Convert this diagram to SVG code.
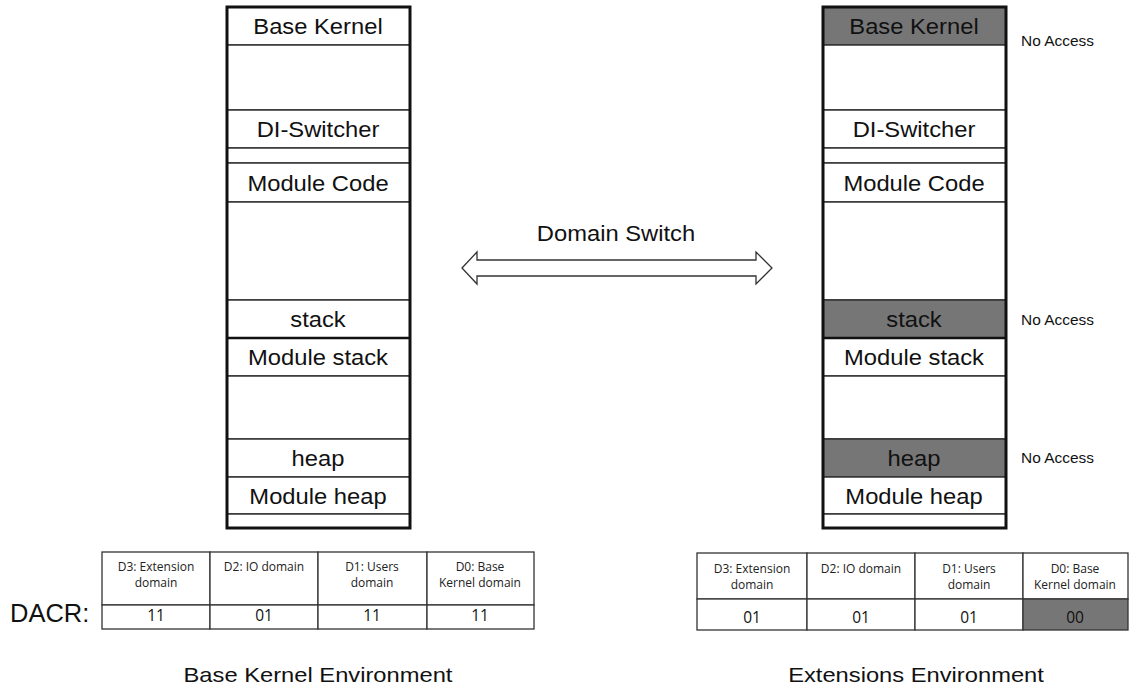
<svg xmlns="http://www.w3.org/2000/svg" width="1129" height="688" viewBox="0 0 1129 688">
<style>
.bg{fill:#ffffff}
.cell{fill:#ffffff;stroke:#333333;stroke-width:1.5}
.gray{fill:#767676;stroke:#333333;stroke-width:1.5}
.outer{fill:none;stroke:#111111;stroke-width:3}
.lbl{font-family:"Liberation Sans",Arial,sans-serif;font-size:22px;fill:#111111;text-anchor:middle}
.na{font-family:"Liberation Sans",Arial,sans-serif;font-size:15px;fill:#111111}
.th{font-family:"Open Sans","Liberation Sans",sans-serif;font-size:12px;fill:#222222;text-anchor:middle}
.tv{font-family:"Open Sans","Liberation Sans",sans-serif;font-size:15.5px;fill:#111111;text-anchor:middle}
.tc{fill:#ffffff;stroke:#333333;stroke-width:1.3}
.tg{fill:#767676;stroke:#333333;stroke-width:1.3}
.cap{font-family:"Liberation Sans",Arial,sans-serif;font-size:21px;fill:#111111;text-anchor:middle}
</style>
<rect class="bg" x="0" y="0" width="1129" height="688"/>

<g id="left-memory">
<rect class="cell" x="227" y="7" width="183" height="38"/>
<rect class="cell" x="227" y="45" width="183" height="65"/>
<rect class="cell" x="227" y="110" width="183" height="38"/>
<rect class="cell" x="227" y="148" width="183" height="15"/>
<rect class="cell" x="227" y="163" width="183" height="39"/>
<rect class="cell" x="227" y="202" width="183" height="98"/>
<rect class="cell" x="227" y="300" width="183" height="38"/>
<rect class="cell" x="227" y="338" width="183" height="38"/>
<rect class="cell" x="227" y="376" width="183" height="63"/>
<rect class="cell" x="227" y="439" width="183" height="38"/>
<rect class="cell" x="227" y="477" width="183" height="37"/>
<rect class="cell" x="227" y="514" width="183" height="14"/>
<line x1="227" y1="338" x2="410" y2="338" stroke="#111111" stroke-width="2.5"/>
<rect class="outer" x="227" y="7" width="183" height="521"/>
<text class="lbl" transform="translate(318 34) scale(1.08 1)">Base Kernel</text>
<text class="lbl" transform="translate(318 137) scale(1.08 1)">DI-Switcher</text>
<text class="lbl" transform="translate(318 191) scale(1.08 1)">Module Code</text>
<text class="lbl" transform="translate(318 327) scale(1.08 1)">stack</text>
<text class="lbl" transform="translate(318 365) scale(1.08 1)">Module stack</text>
<text class="lbl" transform="translate(318 466) scale(1.08 1)">heap</text>
<text class="lbl" transform="translate(318 504) scale(1.08 1)">Module heap</text>
</g>

<g id="right-memory">
<rect class="gray" x="823" y="7" width="183" height="38"/>
<rect class="cell" x="823" y="45" width="183" height="65"/>
<rect class="cell" x="823" y="110" width="183" height="38"/>
<rect class="cell" x="823" y="148" width="183" height="15"/>
<rect class="cell" x="823" y="163" width="183" height="39"/>
<rect class="cell" x="823" y="202" width="183" height="98"/>
<rect class="gray" x="823" y="300" width="183" height="38"/>
<rect class="cell" x="823" y="338" width="183" height="38"/>
<rect class="cell" x="823" y="376" width="183" height="63"/>
<rect class="gray" x="823" y="439" width="183" height="38"/>
<rect class="cell" x="823" y="477" width="183" height="37"/>
<rect class="cell" x="823" y="514" width="183" height="14"/>
<line x1="823" y1="338" x2="1006" y2="338" stroke="#111111" stroke-width="2.5"/>
<rect class="outer" x="823" y="7" width="183" height="521"/>
<text class="lbl" transform="translate(914 34) scale(1.08 1)">Base Kernel</text>
<text class="lbl" transform="translate(914 137) scale(1.08 1)">DI-Switcher</text>
<text class="lbl" transform="translate(914 191) scale(1.08 1)">Module Code</text>
<text class="lbl" transform="translate(914 327) scale(1.08 1)">stack</text>
<text class="lbl" transform="translate(914 365) scale(1.08 1)">Module stack</text>
<text class="lbl" transform="translate(914 466) scale(1.08 1)">heap</text>
<text class="lbl" transform="translate(914 504) scale(1.08 1)">Module heap</text>
</g>

<g id="no-access-labels">
<text class="na" transform="translate(1021 46) scale(1.03 1)">No Access</text>
<text class="na" transform="translate(1021 325) scale(1.03 1)">No Access</text>
<text class="na" transform="translate(1021 463) scale(1.03 1)">No Access</text>
</g>

<g id="connectors">
<polygon points="462,268 477,252 477,260 756,260 756,252 772,268 756,284 756,276 477,276 477,284" fill="#ffffff" stroke="#333333" stroke-width="1.3"/>
<text class="lbl" transform="translate(616 241) scale(1.08 1)">Domain Switch</text>
</g>

<g id="left-dacr">
<text x="10" y="622" font-family="'Liberation Sans',Arial,sans-serif" font-size="25.5" fill="#111111">DACR:</text>
<rect class="tc" x="102" y="552" width="108" height="53"/>
<rect class="tc" x="210" y="552" width="108" height="53"/>
<rect class="tc" x="318" y="552" width="109" height="53"/>
<rect class="tc" x="427" y="552" width="107" height="53"/>
<rect class="tc" x="102" y="605" width="108" height="24"/>
<rect class="tc" x="210" y="605" width="108" height="24"/>
<rect class="tc" x="318" y="605" width="109" height="24"/>
<rect class="tc" x="427" y="605" width="107" height="24"/>
<text class="th" x="156" y="571">D3: Extension</text>
<text class="th" x="156" y="587">domain</text>
<text class="th" x="264" y="571">D2: IO domain</text>
<text class="th" x="372" y="571">D1: Users</text>
<text class="th" x="372" y="587">domain</text>
<text class="th" x="480" y="571">D0: Base</text>
<text class="th" x="480" y="587">Kernel domain</text>
<text class="tv" x="156" y="621">11</text>
<text class="tv" x="264" y="621">01</text>
<text class="tv" x="372" y="621">11</text>
<text class="tv" x="480" y="621">11</text>
</g>

<g id="right-dacr">
<rect class="tc" x="697" y="553" width="110" height="46"/>
<rect class="tc" x="807" y="553" width="108" height="46"/>
<rect class="tc" x="915" y="553" width="108" height="46"/>
<rect class="tc" x="1023" y="553" width="105" height="46"/>
<rect class="tc" x="697" y="599" width="110" height="31"/>
<rect class="tc" x="807" y="599" width="108" height="31"/>
<rect class="tc" x="915" y="599" width="108" height="31"/>
<rect class="tg" x="1023" y="599" width="105" height="31"/>
<text class="th" x="752" y="573">D3: Extension</text>
<text class="th" x="752" y="589">domain</text>
<text class="th" x="861" y="573">D2: IO domain</text>
<text class="th" x="969" y="573">D1: Users</text>
<text class="th" x="969" y="589">domain</text>
<text class="th" x="1075" y="573">D0: Base</text>
<text class="th" x="1075" y="589">Kernel domain</text>
<text class="tv" x="752" y="623">01</text>
<text class="tv" x="861" y="623">01</text>
<text class="tv" x="969" y="623">01</text>
<text class="tv" x="1075" y="623">00</text>
</g>

<g id="captions">
<text class="cap" transform="translate(318 682) scale(1.13 1)">Base Kernel Environment</text>
<text class="cap" transform="translate(916 682) scale(1.13 1)">Extensions Environment</text>
</g>
</svg>
